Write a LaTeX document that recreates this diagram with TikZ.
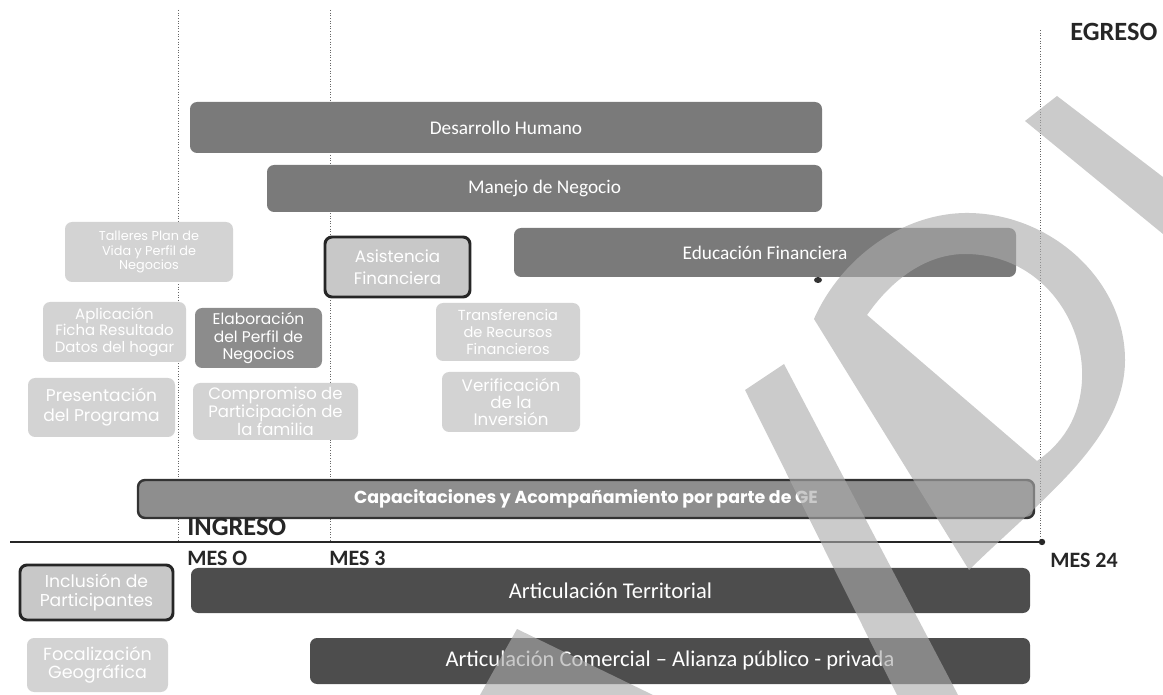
\documentclass[tikz,border=0pt]{standalone}
\usepackage{fontspec}
\setmainfont{Carlito}
\newfontfamily\gothic{Poppins}
\definecolor{barA}{HTML}{7A7A7A}
\definecolor{barB}{HTML}{4D4D4D}
\definecolor{lite}{HTML}{D3D3D3}
\definecolor{midg}{HTML}{8C8C8C}
\definecolor{capg}{HTML}{8E8E8E}
\definecolor{wmark}{HTML}{ABABAB}
\newcommand{\gf}[2]{\gothic\fontsize{#1}{#2}\selectfont}
\begin{document}
\begin{tikzpicture}[x=0.02cm,y=-0.02cm,
  sz/.style 2 args={minimum width=#1*0.02cm, minimum height=#2*0.02cm},
  boxbase/.style={rounded corners=4pt, inner sep=0pt, align=center, text=white},
  darkbar/.style={boxbase, fill=barA, font=\fontsize{11}{13}\selectfont},
  lowbar/.style={boxbase, fill=barB, font=\fontsize{12.8}{14}\selectfont},
  litebox/.style={boxbase, fill=lite},
  midbox/.style={litebox, fill=midg},
  keybox/.style={litebox, fill=lite!95!black, draw=black!85, line width=1.7pt},
  capbox/.style={boxbase, fill=capg, draw=black!80, line width=1.4pt, font=\gothic\bfseries\fontsize{9.9}{11}\selectfont},
  guide/.style={black!60, densely dotted, line width=0.5pt},
  axis/.style={black!85, line width=1.1pt},
  bigword/.style={font=\bfseries\fontsize{15}{17}\selectfont, text=black!85, inner sep=0pt},
  month/.style={font=\bfseries\fontsize{12.5}{14}\selectfont, text=black!85, inner sep=0pt},
  wm/.style={fill=wmark, fill opacity=0.62, draw=none}
]
\useasboundingbox (0,0) rectangle (1163,695);

% guides
\coordinate (g0t) at (178,10);  \coordinate (g0b) at (178,542);
\coordinate (g3t) at (330,10);  \coordinate (g3b) at (330,542);
\coordinate (g24t) at (1040,30); \coordinate (g24b) at (1040,542);
\draw[guide] (g0t) -- (g0b);
\draw[guide] (g3t) -- (g3b);
\draw[guide] (g24t) -- (g24b);

% axis
\coordinate (axL) at (10,542);
\coordinate (axR) at (1042,542);
\draw[axis] (axL) -- (axR);
\fill[black!85] (axR) circle (3.2);

% top bars
\node[darkbar, sz={632}{51}] (dh) at (506,127.5) {Desarrollo Humano};
\node[darkbar, sz={555}{47}] (mn) at (544.5,188.5) {Manejo de Negocio};
\node[darkbar, sz={502}{49}] (ef) at (765,252.5) {Educación Financiera};
\fill[black!80] (818,280) ellipse (4 and 3);

% light boxes
\node[litebox, sz={168}{60}, font=\gf{7.3}{8.5}] (tal) at (149,252) {Talleres Plan de\\Vida y Perfil de\\Negocios};
\node[keybox, sz={145}{60}, font=\gf{9.5}{12.3}] (asf) at (397.5,267) {Asistencia\\Financiera};
\node[litebox, sz={143}{60}, font=\gf{8.5}{9.4}] (apl) at (114.5,332) {Aplicación\\Ficha Resultado\\Datos del hogar};
\node[midbox, sz={127}{60}, font=\gf{8.8}{9.9}] (elab) at (258.5,338) {Elaboración\\del Perfil de\\Negocios};
\node[litebox, sz={144}{58}, font=\gf{8.3}{9.5}] (trf) at (508,332) {Transferencia\\de Recursos\\Financieros};
\node[litebox, sz={147}{59}, font=\gf{9.7}{11.3}] (pres) at (101.5,407.5) {Presentación\\del Programa};
\node[litebox, sz={165}{57}, font=\gf{9.4}{10.4}] (comp) at (275.5,411.5) {Compromiso de\\Participación de\\la familia};
\node[litebox, sz={138}{60}, font=\gf{9.5}{9.7}] (ver) at (511,402) {Verificación\\de la\\Inversión};

\node[capbox, sz={896}{38}] (cap) at (586,499) {Capacitaciones y Acompañamiento por parte de GE};

\node[keybox, sz={153}{55}, font=\gf{9.8}{11}] (inc) at (96.5,592.5) {Inclusión de\\Participantes};
\node[litebox, sz={141}{54}, font=\gf{10}{10.3}] (foc) at (97.5,665) {Focalización\\Geográfica};

\node[lowbar, sz={839}{45}] (at) at (610.5,590.5) {Articulación Territorial};
\node[lowbar, sz={720}{46}] (ac) at (670,661) {Articulación Comercial – Alianza público - privada};

% labels
\node[bigword, anchor=west] (egr) at (1070,32) {EGRESO};
\node[bigword, anchor=west] (ing) at (187,527) {INGRESO};
\node[month, anchor=west] (m0) at (187,558) {MES O};
\node[month, anchor=west] (m3) at (329,558) {MES 3};
\node[month, anchor=west] (m24) at (1050,560) {MES 24};

% watermark
\path[wm] (1025,121) -- (1057,96) -- (1163,177) -- (1163,234) -- cycle;
\path[wm, even odd rule]
  (814,319) .. controls (840,260) and (900,214) .. (965,213)
  .. controls (1050,212) and (1125,280) .. (1125,360)
  .. controls (1125,440) and (1040,500) .. (969,570) -- cycle
  (867,315) .. controls (895,275) and (930,254) .. (965,254)
  .. controls (1040,254) and (1085,320) .. (1082,380)
  .. controls (1080,420) and (1060,445) .. (1037,461) -- cycle;
\path[wm] (745,390) -- (784,364) -- (958,695) -- (897,695) -- cycle;
\path[wm] (517,629) -- (653,695) -- (480,695) -- cycle;
\end{tikzpicture}
\end{document}
